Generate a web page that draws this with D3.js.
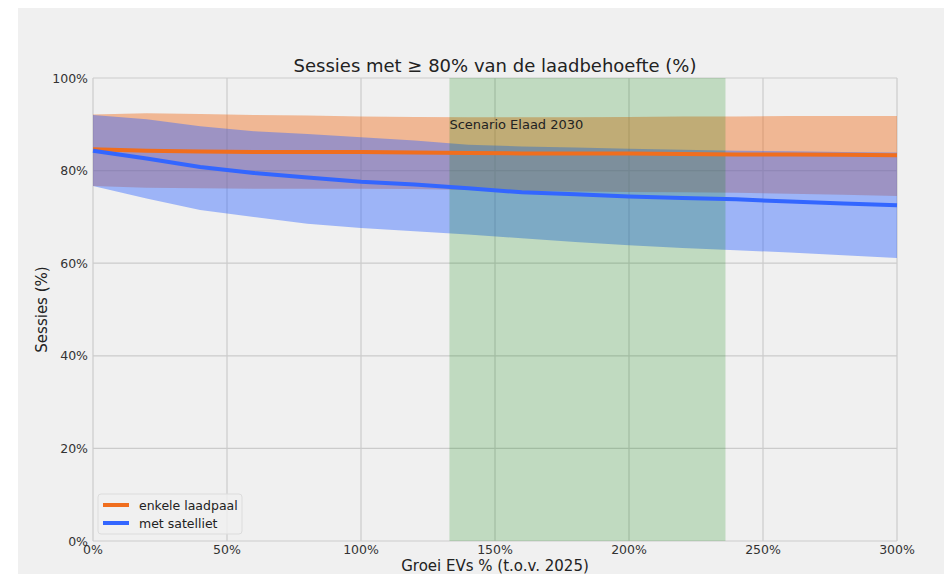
<!DOCTYPE html>
<html>
<head>
<script src="https://cdn.jsdelivr.net/npm/d3@7"></script>
<style>
  body { margin: 0; background: #ffffff; }
  svg text { font-family: "DejaVu Sans", sans-serif; }
</style>
</head>
<body>
<div id="chartContainer"></div>
<script type="text/javascript">
// growth of EVs (% vs 2025)
var groei = [0, 20, 40, 60, 80, 100, 120, 140, 160, 180, 200, 220, 240, 260, 280, 300];

// enkele laadpaal: mean and band
var enkeleMean = [84.6, 84.3, 84.1, 84.0, 84.0, 84.0, 83.9, 83.8, 83.7, 83.7, 83.7, 83.6, 83.5, 83.5, 83.4, 83.3];
var enkeleHigh = [92.1, 92.4, 92.2, 92.0, 91.9, 91.7, 91.6, 91.5, 91.5, 91.5, 91.6, 91.7, 91.7, 91.8, 91.8, 91.8];
var enkeleLow  = [76.7, 76.3, 76.2, 76.1, 76.1, 76.1, 76.0, 75.8, 75.6, 75.5, 75.4, 75.3, 75.2, 75.0, 74.8, 74.5];

// met satelliet: mean and band
var satMean = [84.3, 82.6, 80.8, 79.5, 78.5, 77.6, 77.0, 76.2, 75.3, 74.9, 74.4, 74.1, 73.8, 73.3, 72.9, 72.5];
var satHigh = [92.0, 91.1, 89.6, 88.5, 87.9, 87.2, 86.5, 85.6, 85.2, 85.0, 84.7, 84.5, 84.3, 84.2, 84.0, 83.9];
var satLow  = [76.7, 74.0, 71.5, 70.0, 68.5, 67.6, 66.9, 66.2, 65.4, 64.6, 63.9, 63.3, 62.8, 62.3, 61.7, 61.1];

var scenarioRange = [133, 236];
var scenarioLabel = "Scenario Elaad 2030";
var xTicks = [0, 50, 100, 150, 200, 250, 300];
var yTicks = [0, 20, 40, 60, 80, 100];

var W = 944, H = 574;
var svg = d3.select("#chartContainer").append("svg")
    .attr("width", W).attr("height", H);

// figure panel
svg.append("rect").attr("x", 18).attr("y", 8).attr("width", W - 18).attr("height", H - 8)
    .attr("fill", "#f0f0f0");

var x = d3.scaleLinear().domain([0, 300]).range([93, 897]);
var y = d3.scaleLinear().domain([0, 100]).range([541, 78]);

// grid
svg.selectAll(".vgrid").data(xTicks).enter().append("line")
    .attr("x1", d => x(d)).attr("x2", d => x(d))
    .attr("y1", y(0)).attr("y2", y(100))
    .attr("stroke", "#cbcbcb").attr("stroke-width", 1.2);
svg.selectAll(".hgrid").data(yTicks).enter().append("line")
    .attr("x1", x(0)).attr("x2", x(300))
    .attr("y1", d => y(d)).attr("y2", d => y(d))
    .attr("stroke", "#cbcbcb").attr("stroke-width", 1.2);

// bands
function band(lo, hi) {
  return d3.area()
    .x((d, i) => x(groei[i]))
    .y0((d, i) => y(lo[i]))
    .y1((d, i) => y(hi[i]))(groei);
}
svg.append("path").attr("d", band(enkeleLow, enkeleHigh))
    .attr("fill", "#f06e1e").attr("fill-opacity", 0.44);
svg.append("path").attr("d", band(satLow, satHigh))
    .attr("fill", "#3366ff").attr("fill-opacity", 0.44);

// scenario span
svg.append("rect")
    .attr("x", x(scenarioRange[0])).attr("y", y(100))
    .attr("width", x(scenarioRange[1]) - x(scenarioRange[0]))
    .attr("height", y(0) - y(100))
    .attr("fill", "green").attr("fill-opacity", 0.2);

// lines
var line = d3.line().x((d, i) => x(groei[i])).y(d => y(d));
svg.append("path").attr("d", line(enkeleMean))
    .attr("fill", "none").attr("stroke", "#f06e1e").attr("stroke-width", 4);
svg.append("path").attr("d", line(satMean))
    .attr("fill", "none").attr("stroke", "#3366ff").attr("stroke-width", 4);

// scenario label
svg.append("text")
    .attr("x", x(scenarioRange[0])).attr("y", 129)
    .attr("font-size", 13).attr("fill", "#222")
    .text(scenarioLabel);

// tick labels
svg.selectAll(".xt").data(xTicks).enter().append("text")
    .attr("x", d => x(d)).attr("y", 554)
    .attr("text-anchor", "middle").attr("font-size", 12.5).attr("fill", "#333")
    .text(d => d + "%");
svg.selectAll(".yt").data(yTicks).enter().append("text")
    .attr("x", 88).attr("y", d => y(d) + 4.5)
    .attr("text-anchor", "end").attr("font-size", 12.5).attr("fill", "#333")
    .text(d => d + "%");

// title and axis labels
svg.append("text").attr("x", 495).attr("y", 72)
    .attr("text-anchor", "middle").attr("font-size", 18).attr("fill", "#222")
    .text("Sessies met \u2265 80% van de laadbehoefte (%)");
svg.append("text").attr("x", 495).attr("y", 571)
    .attr("text-anchor", "middle").attr("font-size", 15).attr("fill", "#222")
    .text("Groei EVs % (t.o.v. 2025)");
svg.append("text")
    .attr("transform", "translate(47," + ((y(0) + y(100)) / 2) + ") rotate(-90)")
    .attr("text-anchor", "middle").attr("font-size", 15).attr("fill", "#222")
    .text("Sessies (%)");

// legend
var legend = svg.append("g");
legend.append("rect").attr("x", 98).attr("y", 494).attr("width", 144).attr("height", 40)
    .attr("rx", 3).attr("fill", "#f0f0f0").attr("fill-opacity", 0.8)
    .attr("stroke", "#dcdcdc");
var legendItems = [["enkele laadpaal", "#f06e1e"], ["met satelliet", "#3366ff"]];
legendItems.forEach(function (it, i) {
  var ly = 505 + i * 18;
  legend.append("line").attr("x1", 103).attr("x2", 129).attr("y1", ly).attr("y2", ly)
      .attr("stroke", it[1]).attr("stroke-width", 4);
  legend.append("text").attr("x", 139).attr("y", ly + 4.5)
      .attr("font-size", 12.5).attr("fill", "#222").text(it[0]);
});
</script>
</body>
</html>
